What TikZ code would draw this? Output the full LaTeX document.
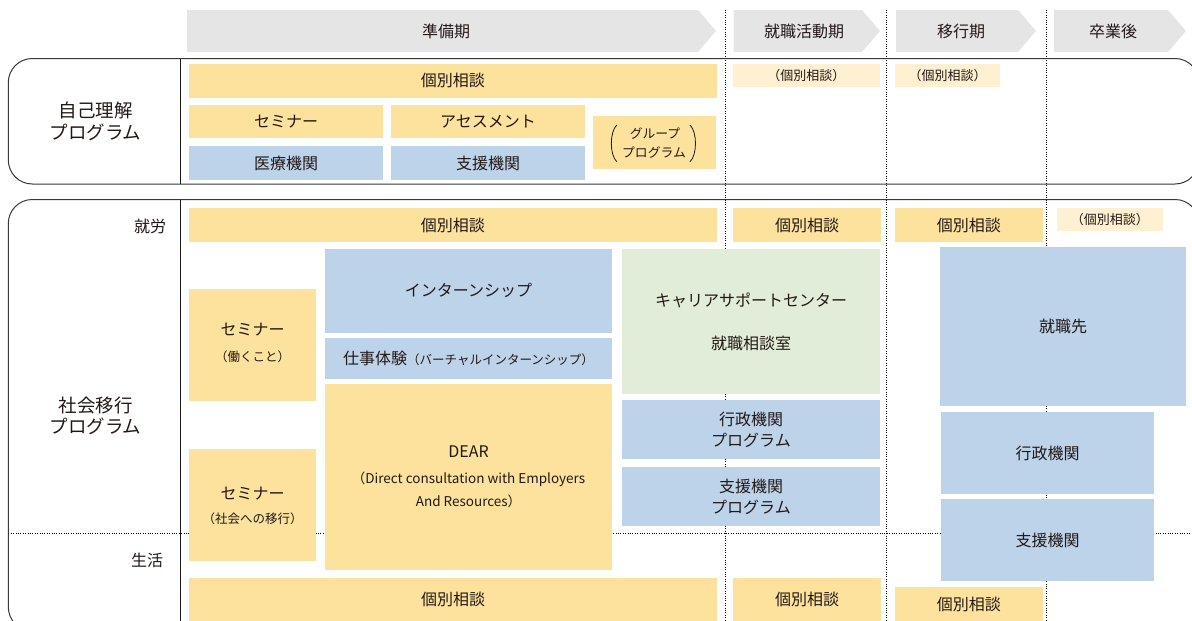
\documentclass[tikz,border=0pt]{standalone}
\usepackage{fontspec}
\setmainfont{Noto Sans CJK JP}
\usetikzlibrary{fit}
\definecolor{yel}{HTML}{FCE29D}
\definecolor{blu}{HTML}{BDD3EA}
\definecolor{grn}{HTML}{E2EDD9}
\definecolor{lyel}{HTML}{FEF0D0}
\definecolor{hdrc}{HTML}{E6E5E6}
\definecolor{txt}{HTML}{231815}
\newcommand\fz[2]{\fontsize{#1}{#2}\selectfont}
% \cell{box style}{name}{corner1}{corner2}{text style}{text}
\newcommand\cell[6]{%
  \node[#1,fit={(#3)(#4)}] (#2) {};
  \node[#5] (#2t) at (#2.center) {#6};}
\begin{document}
\begin{tikzpicture}[x=1pt,y=-1pt,
  every node/.style={text=txt,inner sep=0pt,outer sep=0pt},
  ybox/.style={fill=yel},
  bbox/.style={fill=blu},
  gbox/.style={fill=grn},
  lbox/.style={fill=lyel},
  big/.style={font=\fz{16}{19}},
  small/.style={font=\fz{13}{15}},
  two/.style={font=\fz{16}{20.7},align=center},
  frame/.style={draw=black!78,line width=1pt,rounded corners=24pt},
  divline/.style={draw=black!90,line width=1pt},
  dots/.style={draw=black,line width=0.6pt,dash pattern=on 0.8pt off 1.6pt},
  hdr/.style={fill=hdrc},
  paren/.style={draw=txt,line width=0.8pt}]
\useasboundingbox (0,0) rectangle (1192,621);
\clip (0,0) rectangle (1192,621);

% dotted guide lines
\coordinate (v1t) at (725.5,10);  \coordinate (v1b) at (725.5,621);
\coordinate (v2t) at (886.5,10);  \coordinate (v2b) at (886.5,621);
\coordinate (v3t) at (1046.5,10); \coordinate (v3b) at (1046.5,621);
\coordinate (hl) at (8.3,533.3);  \coordinate (hr) at (1192,533.3);
\draw[dots] (v1t) -- (v1b);
\draw[dots] (v2t) -- (v2b);
\draw[dots] (v3t) -- (v3b);
\draw[dots] (hl) -- (hr);

% header arrows
\fill[hdr] (187,10) -- (698,10) -- (716,31) -- (698,52) -- (187,52) -- cycle;
\fill[hdr] (733.5,10) -- (862,10) -- (880,31) -- (862,52) -- (733.5,52) -- cycle;
\fill[hdr] (896,10) -- (1018,10) -- (1036,31) -- (1018,52) -- (896,52) -- cycle;
\fill[hdr] (1054,10) -- (1168,10) -- (1186,31) -- (1168,52) -- (1054,52) -- cycle;
\node[big] (h1) at (446,31.5) {準備期};
\node[big] (h2) at (804,31.5) {就職活動期};
\node[big] (h3) at (961,31.5) {移行期};
\node[big] (h4) at (1113,31.5) {卒業後};

% frames
\draw[frame] (8.3,58.5) rectangle (1199,184);
\draw[frame] (8.3,199.5) rectangle (1199,631);
\coordinate (d1t) at (180.5,58.5); \coordinate (d1b) at (180.5,184);
\coordinate (d2t) at (180.5,199.5); \coordinate (d2b) at (180.5,631);
\draw[divline] (d1t) -- (d1b);
\draw[divline] (d2t) -- (d2b);

% row labels
\node[font=\fz{18.5}{21.7},align=center] (l1) at (95.5,121) {自己理解\\プログラム};
\node[font=\fz{18.5}{21.7},align=center] (l2) at (95.5,416) {社会移行\\プログラム};
\node[big,anchor=east] (l3) at (166,226.7) {就労};
\node[big,anchor=east] (l4) at (163,560) {生活};

% self-understanding program
\cell{ybox}{a1}{189,64}{716.5,97.7}{big}{個別相談}
\cell{lbox}{a2}{732.5,64}{880,86.7}{small}{（個別相談）}
\cell{lbox}{a3}{895,64}{1000,86.7}{small}{（個別相談）}
\cell{ybox}{a4}{189,105}{383,138}{big}{セミナー}
\cell{ybox}{a5}{391,105}{585,138}{big}{アセスメント}
\cell{bbox}{a6}{189,146}{383,180}{big}{医療機関}
\cell{bbox}{a7}{391,146}{585,180}{big}{支援機関}
\node[ybox,fit={(593,116)(715.5,168.7)}] (a8) {};
\node[font=\fz{12.8}{15}] (a8t1) at (655,133.3) {グループ};
\node[font=\fz{12.8}{15}] (a8t2) at (654,152.7) {プログラム};
\draw[paren] (616.8,125) .. controls (609.5,132) and (609.5,155) .. (616.8,161.7);
\draw[paren] (690,125) .. controls (697.3,132) and (697.3,155) .. (690,161.7);

% social transition program
\cell{ybox}{b1}{189,208.3}{716.5,241.7}{big}{個別相談}
\cell{ybox}{b2}{733,208.3}{881,241.7}{big}{個別相談}
\cell{ybox}{b3}{895,208.3}{1042.5,241.7}{big}{個別相談}
\cell{lbox}{b4}{1057,208}{1162.5,230.7}{small}{（個別相談）}

\node[ybox,fit={(189,289)(316.3,400.7)}] (b5) {};
\node[big] (b5t1) at (252.6,330) {セミナー};
\node[font=\fz{12.5}{15}] (b5t2) at (252.6,356.7) {（働くこと）};

\cell{bbox}{b6}{325,249}{612,332.7}{big}{インターンシップ}
\cell{bbox}{b7}{325,338}{612,378.7}{big}{仕事体験\fz{12.5}{15}（バーチャルインターンシップ）}

\node[ybox,fit={(325,384)(612,570)}] (b8) {};
\node[big] (b8t1) at (468.5,451.7) {DEAR};
\node[font=\fz{13.5}{23.4},align=center] (b8t2) at (468.5,490) {（Direct consultation with Employers\\And Resources）};

\node[ybox,fit={(189,449)(316.3,560.7)}] (b9) {};
\node[big] (b9t1) at (252.6,493.3) {セミナー};
\node[font=\fz{12.5}{15}] (b9t2) at (252.6,518.3) {（社会への移行）};

\node[gbox,fit={(622,249)(880,393.7)}] (b10) {};
\node[big] (b10t1) at (751,300) {キャリアサポートセンター};
\node[big] (b10t2) at (751,343.3) {就職相談室};

\cell{bbox}{b11}{622,400}{880,459}{two}{行政機関\\プログラム}
\cell{bbox}{b12}{622,467}{880,526}{two}{支援機関\\プログラム}

\cell{bbox}{b13}{940,247}{1186,406}{big}{就職先}
\cell{bbox}{b14}{941,412}{1154,494}{big}{行政機関}
\cell{bbox}{b15}{941,499}{1154,581}{big}{支援機関}

\cell{ybox}{b16}{189,578.3}{717,621.5}{big}{個別相談}
\cell{ybox}{b17}{733,578.3}{881,621.5}{big}{個別相談}
\cell{ybox}{b18}{895,587.3}{1042.5,621}{big}{個別相談}
\end{tikzpicture}
\end{document}
